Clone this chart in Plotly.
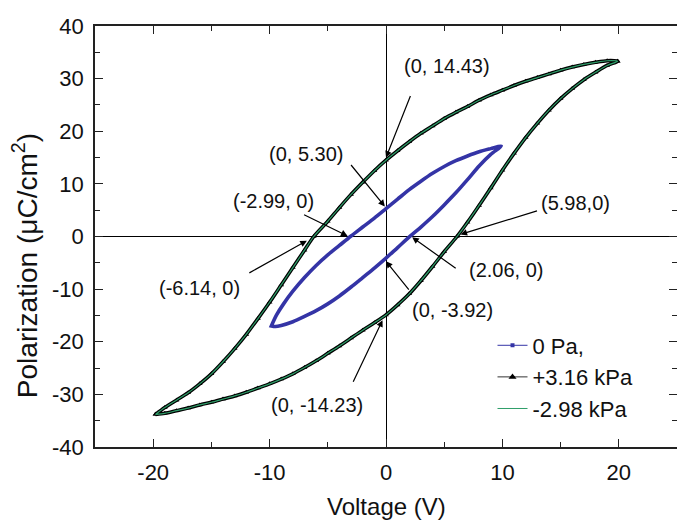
import plotly.graph_objects as go

# ---------------- data ----------------
# Small loop, 0 Pa : descending (upper) branch then ascending (lower) branch
small_up_v = [9.9, 9.0, 8.0, 7.0, 6.0, 5.0, 4.0, 3.0, 2.0, 1.0, 0.0, -1.0, -2.0, -3.0,
              -4.0, -5.0, -6.0, -7.0, -8.0, -8.8, -9.4, -9.85]
small_up_p = [17.2, 16.7, 16.1, 15.3, 14.4, 13.3, 12.0, 10.5, 8.9, 7.1, 5.3, 3.5, 1.8, 0.1,
              -1.7, -3.5, -5.5, -7.8, -10.4, -12.8, -14.9, -17.0]
small_lo_v = [-9.85, -9.5, -9.0, -8.0, -7.0, -6.0, -5.0, -4.0, -3.0, -2.0, -1.0, 0.0, 1.0,
              2.1, 3.0, 4.0, 5.0, 6.0, 7.0, 8.0, 9.0, 9.9]
small_lo_p = [-17.0, -17.1, -16.9, -16.2, -15.2, -14.1, -12.8, -11.3, -9.6, -7.8, -6.0, -4.1,
              -2.1, 0.1, 1.8, 3.8, 6.0, 8.3, 10.8, 13.4, 15.6, 17.2]

# Large loop, +3.16 kPa (the -2.98 kPa loop overlays it)
big_up_v = [19.9, 19.0, 18.0, 17.0, 16.0, 15.0, 14.0, 13.0, 12.0, 11.0, 10.0, 9.0, 8.0, 7.0,
            6.0, 5.0, 4.0, 3.0, 2.0, 1.0, 0.0, -1.0, -2.0, -3.0, -4.0, -5.0, -6.2, -7.0,
            -8.0, -9.0, -10.0, -11.0, -12.0, -13.0, -14.0, -15.0, -16.0, -17.0, -18.0,
            -19.0, -19.8]
big_up_p = [33.3, 33.4, 33.1, 32.7, 32.2, 31.6, 30.9, 30.2, 29.5, 28.7, 27.8, 26.9, 25.9, 24.7,
            23.6, 22.4, 21.0, 19.6, 18.0, 16.3, 14.5, 12.5, 10.3, 8.0, 5.5, 2.9, 0.0, -2.6,
            -5.9, -9.2, -12.5, -15.6, -18.6, -21.3, -23.8, -26.1, -28.0, -29.7, -31.1,
            -32.5, -33.8]
big_lo_v = [-19.8, -19.0, -18.0, -17.0, -16.0, -15.0, -14.0, -13.0, -12.0, -11.0, -10.0,
            -9.0, -8.0, -7.0, -6.0, -5.0, -4.0, -3.0, -2.0, -1.0, 0.0, 1.0, 2.0, 3.0, 4.0,
            5.0, 6.1, 7.0, 8.0, 9.0, 10.0, 11.0, 12.0, 13.0, 14.0, 15.0, 16.0, 17.0, 18.0,
            19.0, 19.9]
big_lo_p = [-33.8, -33.6, -33.1, -32.6, -32.0, -31.5, -30.9, -30.3, -29.6, -28.8, -28.0,
            -27.1, -26.1, -24.9, -23.6, -22.2, -20.8, -19.3, -17.8, -16.4, -14.9, -13.0,
            -10.9, -8.4, -5.7, -2.9, 0.0, 2.7, 5.9, 9.2, 12.6, 15.8, 18.8, 21.5, 24.0, 26.2,
            28.1, 29.8, 31.2, 32.5, 33.3]

series_names = ["0 Pa,", "+3.16 kPa", "-2.98 kPa"]

# annotation labels: text, arrow head (data), arrow tail offset (px), text centre (data)
ann_text = ["(0, 14.43)", "(0, 5.30)", "(-2.99, 0)", "(-6.14, 0)",
            "(2.06, 0)", "(0, -3.92)", "(5.98,0)", "(0, -14.23)"]
ann_head_x = [0.0, -0.1, -3.3, -6.8, 2.25, 0.0, 6.4, -0.3]
ann_head_y = [15.0, 5.7, 0.1, -0.8, -0.15, -4.7, 0.4, -15.9]
ann_tail_dx = [25, -35, -45, -59, 45, 24, 78, -30]
ann_tail_dy = [-63, -43, -22, 33, 32, 30, -24, 63]
ann_text_x = [5.22, -6.89, -9.63, -16.05, 10.27, 5.74, 16.27, -5.95]
ann_text_y = [32.4, 15.6, 6.8, -9.85, -6.33, -13.9, 6.44, -32.1]

x_ticks = [-20, -10, 0, 10, 20]
x_tick_text = ["-20", "-10", "0", "10", "20"]
y_ticks = [-40, -30, -20, -10, 0, 10, 20, 30, 40]
y_tick_text = ["-40", "-30", "-20", "-10", "0", "10", "20", "30", "40"]

BLUE = "#3434a6"
GREEN = "#2f9e6a"
FONT = "Liberation Sans, Arial, sans-serif"

fig = go.Figure()

small_v = small_up_v + small_lo_v
small_p = small_up_p + small_lo_p
big_v = big_up_v + big_lo_v
big_p = big_up_p + big_lo_p

fig.add_trace(go.Scatter(x=big_v, y=big_p, mode="lines+markers", showlegend=False,
                         line=dict(color="black", width=3.6, shape="spline", smoothing=0.8),
                         marker=dict(symbol="triangle-up", size=5, color="black")))
fig.add_trace(go.Scatter(x=big_v, y=big_p, mode="lines", showlegend=False,
                         line=dict(color=GREEN, width=1.2, shape="spline", smoothing=0.8)))
fig.add_trace(go.Scatter(x=small_v, y=small_p, mode="lines", showlegend=False,
                         line=dict(color=BLUE, width=3.6, shape="spline", smoothing=0.8)))

# legend entries
fig.add_trace(go.Scatter(x=[None], y=[None], mode="lines+markers", name=series_names[0],
                         legendgroup="a", line=dict(color=BLUE, width=1),
                         marker=dict(symbol="square", size=4, color=BLUE)))
fig.add_trace(go.Scatter(x=[None], y=[None], mode="lines+markers", name=series_names[1],
                         legendgroup="b", line=dict(color="#333333", width=1),
                         marker=dict(symbol="triangle-up", size=7, color="black")))
fig.add_trace(go.Scatter(x=[None], y=[None], mode="lines", name=series_names[2],
                         legendgroup="c", line=dict(color=GREEN, width=1)))

annotations = []
for i in range(len(ann_text)):
    annotations.append(dict(x=ann_head_x[i], y=ann_head_y[i], xref="x", yref="y", text="",
                            showarrow=True, ax=ann_tail_dx[i], ay=ann_tail_dy[i],
                            arrowhead=2, arrowsize=1.1, arrowwidth=1.2, arrowcolor="black",
                            standoff=0, startstandoff=0))
    annotations.append(dict(x=ann_text_x[i], y=ann_text_y[i], xref="x", yref="y",
                            text=ann_text[i], showarrow=False,
                            font=dict(family=FONT, size=20, color="#111")))

annotations.append(dict(x=-0.12, y=0.43, xref="paper", yref="paper",
                        text="Polarization (\u03bcC/cm<sup>2</sup>)", textangle=-90,
                        showarrow=False, xanchor="center", yanchor="middle",
                        font=dict(family=FONT, size=28, color="#111")))
annotations.append(dict(x=0.5, y=-0.141, xref="paper", yref="paper",
                        text="Voltage (V)", showarrow=False, xanchor="center", yanchor="middle",
                        font=dict(family=FONT, size=24, color="#111")))

axis_common = dict(showgrid=False, zeroline=True, zerolinecolor="black", zerolinewidth=1.2,
                   showline=True, linecolor="#222", linewidth=1.5, mirror="ticks",
                   ticks="inside", ticklen=8, tickwidth=1.3, tickcolor="#222",
                   ticklabeloverflow="allow",
                   tickfont=dict(family=FONT, size=22, color="#111"))

# page body has an 8px default margin, so the figure is sized/offset to compensate
fig.update_layout(
    width=677, height=520,
    margin=dict(l=87, r=6, t=9, b=81),
    paper_bgcolor="white", plot_bgcolor="white",
    xaxis=dict(range=[-25, 25], tickvals=x_ticks, ticktext=x_tick_text, ticklabelstandoff=5,
               minor=dict(dtick=5, ticks="inside", ticklen=5, tickcolor="#222", tickwidth=1.2),
               **axis_common),
    yaxis=dict(range=[-40, 40], tickvals=y_ticks, ticktext=y_tick_text, ticklabelstandoff=5,
               minor=dict(dtick=5, ticks="inside", ticklen=5, tickcolor="#222", tickwidth=1.2),
               **axis_common),
    legend=dict(x=0.683, y=0.291, xanchor="left", yanchor="top", bgcolor="rgba(0,0,0,0)",
                font=dict(family=FONT, size=22, color="#111"), traceorder="grouped",
                tracegroupgap=0, itemwidth=30),
    annotations=annotations,
)

fig.write_html("out.html")
